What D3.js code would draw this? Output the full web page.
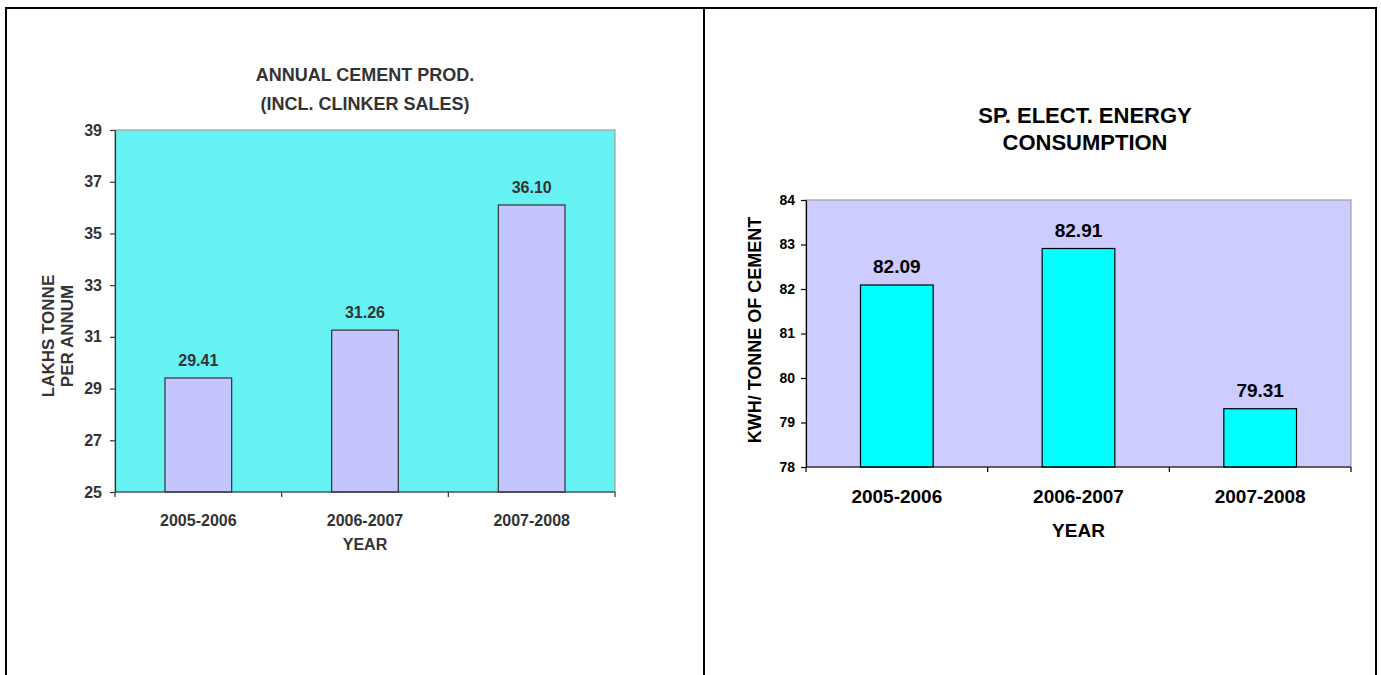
<!DOCTYPE html>
<html>
<head>
<meta charset="utf-8">
<script src="https://cdn.jsdelivr.net/npm/d3@7"></script>
<style>
  html, body { margin: 0; padding: 0; background: #fff; }
  svg { display: block; font-family: "Liberation Sans", Arial, sans-serif; }
  text { font-weight: bold; }
</style>
</head>
<body>
<svg id="page" width="1381" height="675"></svg>
<script>
// Shared categories
const years = ["2005-2006", "2006-2007", "2007-2008"];

// Annual cement production, lakhs tonne per annum
const cementProd = [29.41, 31.26, 36.10];
const cementTicks = [25, 27, 29, 31, 33, 35, 37, 39];

// Specific electrical energy, kWh per tonne of cement
const energyUse = [82.09, 82.91, 79.31];
const energyTicks = [78, 79, 80, 81, 82, 83, 84];

const svg = d3.select("#page");

// Frame of the two-cell table holding the charts
const frame = svg.append("g").attr("stroke", "#000").attr("stroke-width", 2).attr("fill", "none");
frame.append("path").attr("d", "M6,675 V8 H1376 V675");
frame.append("line").attr("x1", 704).attr("x2", 704).attr("y1", 8).attr("y2", 675);

function barChart(cfg) {
  const g = svg.append("g");
  const x = d3.scaleBand().domain(cfg.categories).range([cfg.left, cfg.right]).paddingInner(0.6).paddingOuter(0.3);
  const xb = d3.scaleBand().domain(cfg.categories).range([cfg.left, cfg.right]);
  const y = d3.scaleLinear().domain(cfg.domain).range([cfg.bottom, cfg.top]);

  // plot area
  g.append("rect")
    .attr("x", cfg.left).attr("y", cfg.top)
    .attr("width", cfg.right - cfg.left).attr("height", cfg.bottom - cfg.top)
    .attr("fill", cfg.plotFill).attr("stroke", "#a0a0a0").attr("stroke-width", 1.2);

  // bars
  g.selectAll("rect.bar").data(cfg.values).join("rect")
    .attr("class", "bar")
    .attr("x", (d, i) => x(cfg.categories[i]))
    .attr("width", x.bandwidth())
    .attr("y", d => y(d))
    .attr("height", d => y(cfg.domain[0]) - y(d))
    .attr("fill", cfg.barFill).attr("stroke", cfg.barStroke).attr("stroke-width", 1.2);

  // value labels
  g.selectAll("text.val").data(cfg.values).join("text")
    .attr("class", "val")
    .attr("x", (d, i) => x(cfg.categories[i]) + x.bandwidth() / 2)
    .attr("y", d => y(d) - cfg.valGap)
    .attr("text-anchor", "middle")
    .attr("font-size", cfg.valSize).attr("fill", cfg.textColor)
    .text(d => d.toFixed(2));

  // y axis
  const ya = g.append("g").attr("transform", `translate(${cfg.left},0)`)
    .call(d3.axisLeft(y).tickValues(cfg.ticks).tickSize(5).tickSizeOuter(0).tickPadding(cfg.tickPad).tickFormat(d3.format("d")));
  ya.select(".domain").attr("stroke", cfg.axisColor).attr("stroke-width", 1.2);
  ya.selectAll(".tick line").attr("stroke", cfg.axisColor).attr("stroke-width", 1.2);
  ya.selectAll(".tick text").attr("font-size", cfg.tickSize).attr("fill", cfg.textColor)
    .attr("font-family", "Liberation Sans, Arial, sans-serif").attr("font-weight", "bold");

  // x axis with boundary ticks between categories
  const xa = g.append("g").attr("transform", `translate(0,${cfg.bottom})`);
  xa.append("line").attr("x1", cfg.left).attr("x2", cfg.right)
    .attr("stroke", cfg.axisColor).attr("stroke-width", 1.2);
  const bounds = cfg.categories.map(c => xb(c)).concat([cfg.right]);
  xa.selectAll("line.tk").data(bounds).join("line").attr("class", "tk")
    .attr("x1", d => d).attr("x2", d => d).attr("y1", 0).attr("y2", 5)
    .attr("stroke", cfg.axisColor).attr("stroke-width", 1.2);
  g.selectAll("text.cat").data(cfg.categories).join("text").attr("class", "cat")
    .attr("x", d => xb(d) + xb.bandwidth() / 2)
    .attr("y", cfg.catY)
    .attr("text-anchor", "middle")
    .attr("font-size", cfg.catSize).attr("fill", cfg.textColor)
    .text(d => d);

  // x axis title
  g.append("text").attr("x", (cfg.left + cfg.right) / 2).attr("y", cfg.xTitleY)
    .attr("text-anchor", "middle").attr("font-size", cfg.xTitleSize).attr("fill", cfg.textColor)
    .text(cfg.xTitle);

  // y axis title (rotated, possibly two lines)
  const yt = g.append("text").attr("transform", `translate(${cfg.yTitleX},${cfg.yTitleCY}) rotate(-90)`)
    .attr("text-anchor", "middle").attr("font-size", cfg.yTitleSize).attr("fill", cfg.textColor);
  cfg.yTitle.forEach((line, i) => {
    yt.append("tspan").attr("x", 0).attr("y", (i - (cfg.yTitle.length - 1) / 2) * cfg.yTitleLH).text(line);
  });

  // chart title
  const tt = g.append("text").attr("text-anchor", "middle").attr("font-size", cfg.titleSize).attr("fill", cfg.textColor);
  cfg.title.forEach((line, i) => {
    tt.append("tspan").attr("x", cfg.titleX).attr("y", cfg.titleY + i * cfg.titleLH).text(line);
  });
}

barChart({
  categories: years, values: cementProd, domain: [25, 39], ticks: cementTicks,
  left: 115, right: 615, top: 130, bottom: 492,
  plotFill: "#66f2f2", barFill: "#c4c4ff", barStroke: "#333", axisColor: "#333",
  textColor: "#333", valSize: 16, valGap: 12, tickSize: 16, tickPad: 8,
  catY: 526, catSize: 16, xTitle: "YEAR", xTitleY: 550, xTitleSize: 16,
  yTitle: ["LAKHS TONNE", "PER ANNUM"], yTitleX: 63, yTitleCY: 336, yTitleSize: 17, yTitleLH: 19,
  title: ["ANNUAL CEMENT PROD.", "(INCL. CLINKER SALES)"], titleX: 365, titleY: 81, titleLH: 29, titleSize: 18
});

barChart({
  categories: years, values: energyUse, domain: [78, 84], ticks: energyTicks,
  left: 806, right: 1351, top: 200, bottom: 467,
  plotFill: "#ccccff", barFill: "#00ffff", barStroke: "#000", axisColor: "#000",
  textColor: "#000", valSize: 19, valGap: 12, tickSize: 14, tickPad: 6,
  catY: 503, catSize: 19, xTitle: "YEAR", xTitleY: 537, xTitleSize: 19,
  yTitle: ["KWH/ TONNE OF CEMENT"], yTitleX: 761, yTitleCY: 330, yTitleSize: 18, yTitleLH: 18,
  title: ["SP. ELECT. ENERGY", "CONSUMPTION"], titleX: 1085, titleY: 123, titleLH: 27, titleSize: 22
});
</script>
</body>
</html>
